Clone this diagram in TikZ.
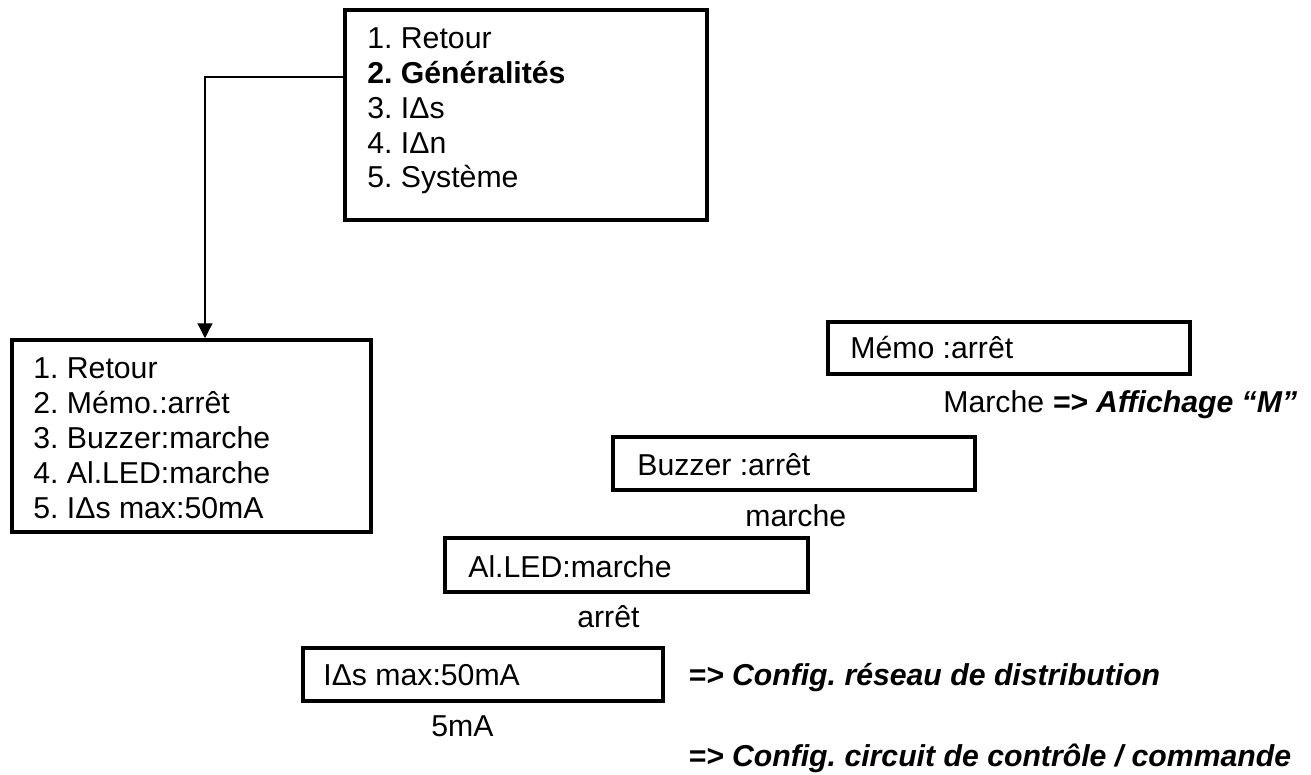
\documentclass[tikz,border=0pt]{standalone}
\usepackage{fontspec}
\setmainfont{Liberation Sans}
\frenchspacing
\usetikzlibrary{arrows.meta,fit}
\tikzset{
  lcd/.style={draw,line width=2pt,inner sep=0pt},
  menutext/.style={inner sep=0pt,anchor=north west,align=left},
  lcdtext/.style={inner sep=0pt,anchor=base west},
  link/.style={line width=0.75pt,-{Triangle[length=0.3cm,width=0.3cm]}}
}
\begin{document}
\begin{tikzpicture}[x=0.02cm,y=-0.02cm,font=\fontsize{17.2}{19.9}\selectfont]
\useasboundingbox (0,0) rectangle (1311,774);
%main menu
\node[lcd,fit={(345,10) (707,220)}] (menu) {};
\node[menutext] (menutxt) at (367,27) {1. Retour\\\textbf{2. Généralités}\\3. IΔs\\4. IΔn\\5. Système};
%general menu
\node[lcd,fit={(12,340) (371,532)}] (general) {};
\node[menutext] (generaltxt) at (33,357) {1. Retour\\2. Mémo.:arrêt\\3. Buzzer:marche\\4. Al.LED:marche\\5. IΔs max:50mA};
\draw[link] (menu.west |- 0,77) -| (general.north -| 205,0);
%settings
\node[lcd,fit={(828,322) (1190,374)}] (memo) {};
\node[lcdtext] (memotxt) at (850,358) {Mémo :arrêt};
\node[lcdtext] (memoalt) at (943,412) {Marche \textbf{\textit{=> Affichage “M”}}};
\node[lcd,fit={(613,437) (975,490)}] (buzzer) {};
\node[lcdtext] (buzzertxt) at (637,475) {Buzzer :arrêt};
\node[lcdtext] (buzzeralt) at (745,526) {marche};
\node[lcd,fit={(445,538) (808,592)}] (led) {};
\node[lcdtext] (ledtxt) at (468,577) {Al.LED:marche};
\node[lcdtext] (ledalt) at (577,627) {arrêt};
\node[lcd,fit={(303,648) (663,701)}] (ids) {};
\node[lcdtext] (idstxt) at (323,685) {IΔs max:50mA};
\node[lcdtext] (idsalt) at (431,736) {5mA};
\node[lcdtext] (net) at (688,685) {\textbf{\textit{=> Config. réseau de distribution}}};
\node[lcdtext] (ctrl) at (688,766) {\textbf{\textit{=> Config. circuit de contrôle / commande}}};
\end{tikzpicture}
\end{document}
